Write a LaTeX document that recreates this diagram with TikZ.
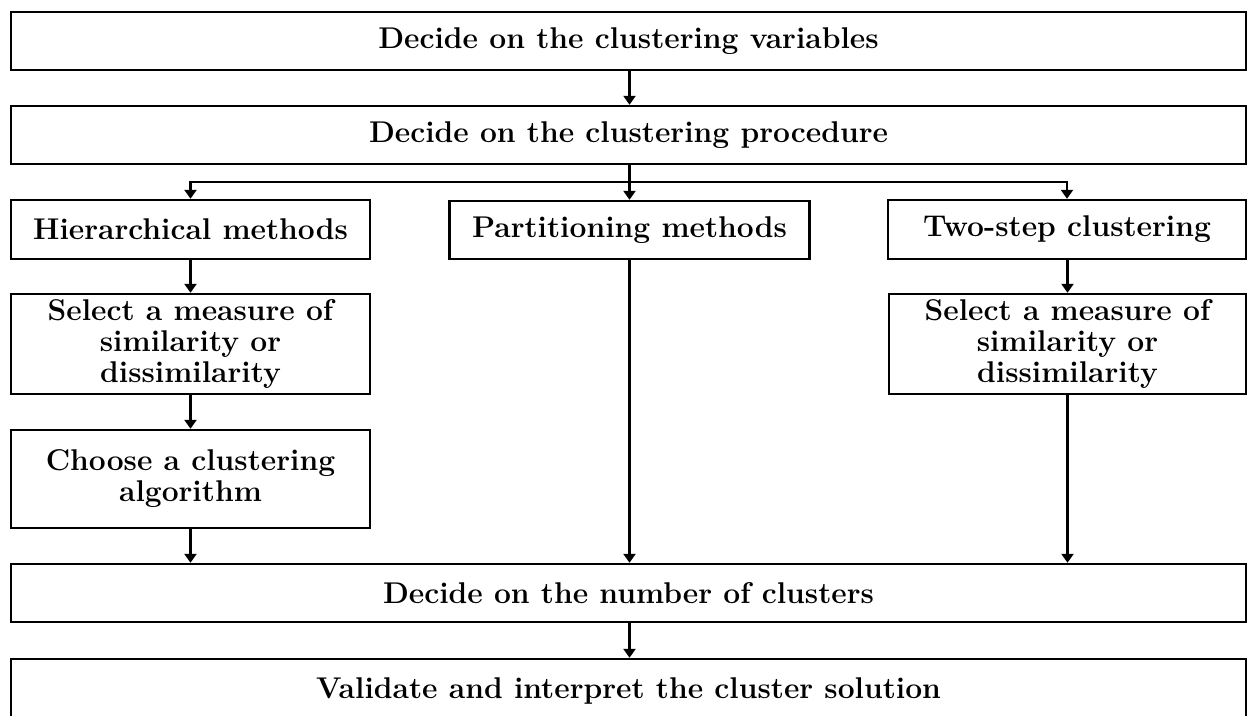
\documentclass[tikz,border=0pt]{standalone}
\usepackage{fontspec}
\usetikzlibrary{arrows.meta}
\begin{document}
\begin{tikzpicture}[x=1pt,y=-1pt,
  box/.style={draw=black, line width=2.4pt, rectangle, inner sep=0pt, align=center,
    font=\fontsize{30}{31}\selectfont\bfseries},
  arr/.style={line width=2.4pt, -{Triangle[length=9pt,width=12pt]}},
  ln/.style={line width=2.4pt}]
\useasboundingbox (0,0) rectangle (1247,715);
\clip (0,0) rectangle (1247,715);
\node[box, minimum width=1235pt, minimum height=58pt] (vars) at (628.5,41) {Decide on the clustering variables};
\node[box, minimum width=1235pt, minimum height=58pt] (proc) at (628.5,135) {Decide on the clustering procedure};
\node[box, minimum width=359pt, minimum height=59pt] (hier) at (190.5,229.5) {Hierarchical methods};
\node[box, minimum width=360pt, minimum height=58pt] (part) at (629.5,230) {Partitioning methods};
\node[box, minimum width=358pt, minimum height=59pt] (two) at (1067,229.5) {Two-step clustering};
\node[box, minimum width=359pt, minimum height=100pt] (sela) at (190.5,344) {Select a measure of\\similarity or\\dissimilarity};
\node[box, minimum width=357pt, minimum height=100pt] (selb) at (1067.5,344) {Select a measure of\\similarity or\\dissimilarity};
\node[box, minimum width=359pt, minimum height=98pt] (choose) at (190.5,479) {Choose a clustering\\algorithm};
\node[box, minimum width=1235pt, minimum height=58pt] (num) at (628.5,593) {Decide on the number of clusters};
\node[box, minimum width=1235pt, minimum height=63pt] (valid) at (628.5,690.5) {Validate and interpret the cluster solution};
\coordinate (br) at (629.5,182);
\draw[arr] (vars.south -| br) -- (proc.north -| br);
\draw[ln] (proc.south -| br) -- (br);
\draw[arr] (br) -| (hier.north);
\draw[arr] (br) -- (part.north);
\draw[arr] (br) -| (two.north);
\draw[arr] (hier.south) -- (sela.north);
\draw[arr] (sela.south) -- (choose.north);
\draw[arr] (choose.south) -- (choose.south |- num.north);
\draw[arr] (part.south) -- (part.south |- num.north);
\draw[arr] (two.south -| selb.north) -- (selb.north);
\draw[arr] (selb.south) -- (selb.south |- num.north);
\draw[arr] (num.south -| br) -- (valid.north -| br);
\end{tikzpicture}
\end{document}
